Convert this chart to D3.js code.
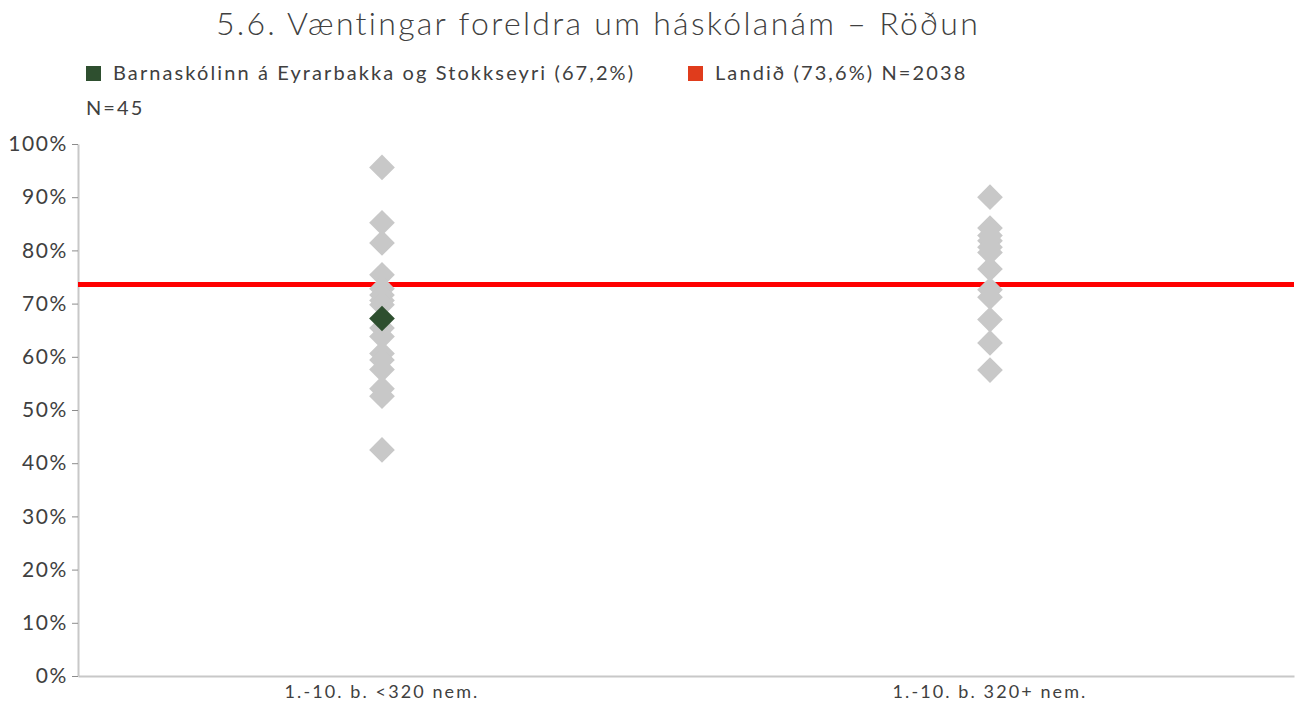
<!DOCTYPE html>
<html>
<head>
<meta charset="utf-8">
<script src="https://cdn.jsdelivr.net/npm/d3@7"></script>
<style>
  html, body { margin: 0; padding: 0; background: #fff; }
  svg text { font-family: "Lato", "Open Sans", sans-serif; fill: #404040; }
</style>
</head>
<body>
<svg id="chart" width="1303" height="706"></svg>
<script>
// School groups on the x axis
const categories = ["1.-10. b. <320 nem.", "1.-10. b. 320+ nem."];

// Share of parents expecting university study, one value per school
const schoolsSmall = [0.956, 0.852, 0.814, 0.754, 0.728, 0.716, 0.706, 0.698,
                      0.654, 0.638, 0.606, 0.594, 0.576, 0.540, 0.526, 0.425];
const schoolsLarge = [0.900, 0.842, 0.828, 0.818, 0.806, 0.796, 0.765, 0.726,
                      0.712, 0.670, 0.626, 0.575];

// Highlighted school and national value
const highlightName = "Barnaskólinn á Eyrarbakka og Stokkseyri";
const highlightValue = 0.672;
const highlightCategory = "1.-10. b. <320 nem.";
const highlightN = 45;
const nationalValue = 0.736;
const nationalN = 2038;

const yTicks = [0, 0.1, 0.2, 0.3, 0.4, 0.5, 0.6, 0.7, 0.8, 0.9, 1.0];

const points = [
  ...schoolsSmall.map(v => ({ cat: categories[0], value: v })),
  ...schoolsLarge.map(v => ({ cat: categories[1], value: v }))
];

const svg = d3.select("#chart");
const plotLeft = 78, plotRight = 1294, plotTop = 144, plotBottom = 676;

const x = d3.scaleBand().domain(categories).range([plotLeft, plotRight]).padding(0);
const y = d3.scaleLinear().domain([0, 1]).range([plotBottom, plotTop]);

const fmtPct = d3.format(".1%");
const pctIs = v => fmtPct(v).replace(".", ",");

// Title
svg.append("text")
  .attr("x", 598).attr("y", 35)
  .attr("text-anchor", "middle")
  .style("font-size", "32px").style("font-weight", 300)
  .style("letter-spacing", "2.3px")
  .text("5.6. Væntingar foreldra um háskólanám – Röðun");

// Legend
const legend = svg.append("g").style("font-size", "20px").style("letter-spacing", "2.1px");
legend.append("rect").attr("x", 86).attr("y", 66).attr("width", 15).attr("height", 15).attr("fill", "#2e4f2f");
legend.append("text").attr("x", 113).attr("y", 80)
  .text(`${highlightName} (${pctIs(highlightValue)})`);
legend.append("rect").attr("x", 688).attr("y", 66).attr("width", 15).attr("height", 15).attr("fill", "#e03c1c");
legend.append("text").attr("x", 715).attr("y", 80)
  .text(`Landið (${pctIs(nationalValue)}) N=${nationalN}`);
legend.append("text").attr("x", 86).attr("y", 115).text(`N=${highlightN}`);

// Y axis
const yAxis = svg.append("g")
  .attr("transform", `translate(${plotLeft},0)`)
  .call(d3.axisLeft(y).tickValues(yTicks).tickFormat(d3.format(".0%")).tickSize(6).tickSizeOuter(0).tickPadding(4));
yAxis.select(".domain").attr("stroke", "#c8c8c8").attr("stroke-width", 2);
yAxis.selectAll(".tick line").attr("stroke", "#8c8c8c");
yAxis.selectAll(".tick text")
  .style("font-size", "21px").style("letter-spacing", "1.6px")
  .style("fill", "#404040").attr("font-family", null);

// X axis
const xAxis = svg.append("g")
  .attr("transform", `translate(0,${plotBottom})`)
  .call(d3.axisBottom(x).tickSize(0).tickSizeOuter(0).tickPadding(9));
xAxis.select(".domain").attr("stroke", "#c8c8c8").attr("stroke-width", 2);
xAxis.selectAll(".tick text")
  .style("font-size", "18px").style("letter-spacing", "2.1px")
  .style("fill", "#404040").attr("font-family", null);

// National reference line
svg.append("line")
  .attr("x1", plotLeft).attr("x2", plotRight)
  .attr("y1", y(nationalValue)).attr("y2", y(nationalValue))
  .attr("stroke", "#ff0000").attr("stroke-width", 5);

// Diamonds
const diamond = d3.symbol().type(d3.symbolSquare).size(330);
const cx = c => x(c) + x.bandwidth() / 2;

svg.append("g").selectAll("path").data(points).join("path")
  .attr("d", diamond)
  .attr("transform", d => `translate(${cx(d.cat)},${y(d.value)}) rotate(45)`)
  .attr("fill", "#c8c8c8");

svg.append("path")
  .attr("d", diamond)
  .attr("transform", `translate(${cx(highlightCategory)},${y(highlightValue)}) rotate(45)`)
  .attr("fill", "#2e4f2f");
</script>
</body>
</html>
